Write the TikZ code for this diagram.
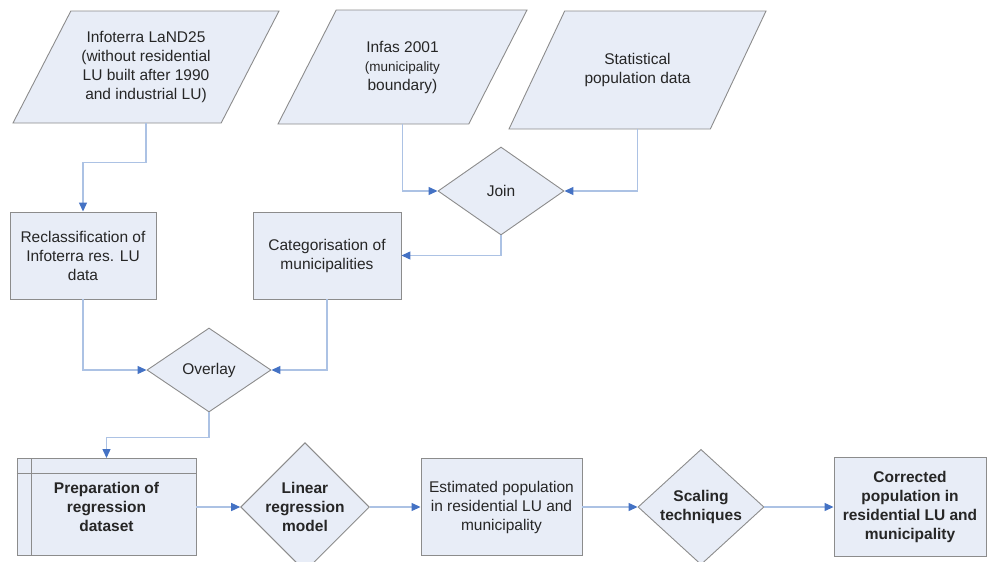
\documentclass[tikz,border=0pt]{standalone}
\usepackage{fontspec}
\setmainfont{Liberation Sans}
\usepackage{tikz}
\usetikzlibrary{shapes,arrows.meta}
\definecolor{boxfill}{RGB}{232,237,247}
\definecolor{boxline}{RGB}{140,140,140}
\definecolor{flowline}{RGB}{172,194,228}
\definecolor{flowhead}{RGB}{68,114,196}
\tikzstyle{base}=[draw=boxline, fill=boxfill, line width=0.9pt, text=black!85,% light blue-grey fill
align=center, font=\fontsize{15.5}{19}\selectfont, inner sep=0pt]
\tikzstyle{dataio}=[base, trapezium, trapezium stretches body]
\tikzstyle{proc}=[base, rectangle]
\tikzstyle{decis}=[base, diamond]
\tikzstyle{boldtxt}=[font=\fontsize{15.5}{19}\selectfont\bfseries]
\tikzstyle{flow}=[-{Triangle[length=9pt,width=8pt,color=flowhead]}, draw=flowline, line width=1.2pt]
\tikzset{slope/.style={trapezium left angle=#1, trapezium right angle=180-#1}}

\begin{document}
\begin{tikzpicture}[x=1pt,y=-1pt]
\useasboundingbox (0,0) rectangle (988,562);
% input data
\node[dataio, slope=51, minimum width=266pt, minimum height=112pt] (infoterra) at (146,67) {Infoterra LaND25\\(without residential\\LU built after 1990\\and industrial LU)};
\node[dataio, slope=42, minimum width=249pt, minimum height=114pt] (infas) at (402.5,67) {Infas 2001\\\fontsize{13.5}{16}\selectfont(municipality\\boundary)};
\node[dataio, slope=31, minimum width=257pt, minimum height=118pt] (stat) at (637.5,70) {Statistical\\population data};
% processing
\node[decis, minimum width=126pt, minimum height=88pt] (join) at (501,191) {Join};
\node[proc, minimum width=146pt, minimum height=87pt] (reclass) at (83,255.5) {Reclassification of\\Infoterra res. LU\\data};
\node[proc, minimum width=148pt, minimum height=87pt] (cat) at (327,255.5) {Categorisation of\\municipalities};
\node[decis, minimum width=124pt, minimum height=84pt] (overlay) at (209,370) {Overlay};
% bottom row
\node[proc, boldtxt, minimum width=179pt, minimum height=97pt] (prep) at (106.5,507) {Preparation of\\regression\\dataset};
\node[decis, boldtxt, minimum width=126pt, minimum height=114pt] (linear) at (305,507) {Linear\\regression\\model};
\node[proc, minimum width=161pt, minimum height=97pt] (estim) at (501.5,507) {Estimated population\\in residential LU and\\municipality};
\node[decis, boldtxt, minimum width=126pt, minimum height=114pt] (scaling) at (701,507) {Scaling\\techniques};
\node[proc, boldtxt, minimum width=152pt, minimum height=99pt] (corr) at (910,507) {Corrected\\population in\\residential LU and\\municipality};
\draw[boxline, line width=0.9pt] ([xshift=15pt]prep.north west) -- ([xshift=15pt]prep.south west);
\draw[boxline, line width=0.9pt] ([yshift=-15pt]prep.north west) -- ([yshift=-15pt]prep.north east);
% connectors
\draw[flow] (infoterra.center |- infoterra.south) -- ++(0,39) -| (reclass.north);
\draw[flow] (infas.center |- infas.south) |- (join.west);
\draw[flow] (stat.center |- stat.south) |- (join.east);
\draw[flow] (join.south) |- (cat.east);
\draw[flow] (reclass.south) |- (overlay.west);
\draw[flow] (cat.south) |- (overlay.east);
\draw[flow] (overlay.south) -- ++(0,25) -| (prep.north);
\draw[flow] (prep.east) -- (linear.west);
\draw[flow] (linear.east) -- (estim.west);
\draw[flow] (estim.east) -- (scaling.west);
\draw[flow] (scaling.east) -- (corr.west);
\end{tikzpicture}
\end{document}
